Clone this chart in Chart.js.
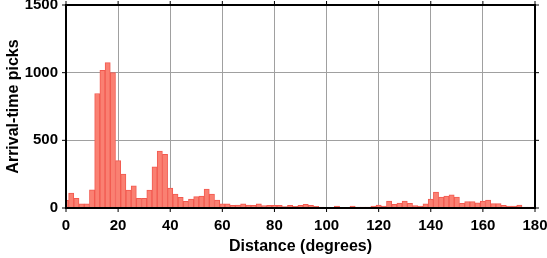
<!DOCTYPE html>
<html>
<head>
<meta charset="utf-8">
<script src="https://cdn.jsdelivr.net/npm/chart.js@4/dist/chart.umd.min.js"></script>
<style>
  body { margin: 0; background: #fff; }
</style>
</head>
<body>
<canvas id="histChart" width="547" height="258"></canvas>
<script>
// bin centres (degrees), 2-degree bins
const distances = [
  0, 2, 4, 6, 8, 10, 12, 14, 16, 18,
  20, 22, 24, 26, 28, 30, 32, 34, 36, 38,
  40, 42, 44, 46, 48, 50, 52, 54, 56, 58,
  60, 62, 64, 66, 68, 70, 72, 74, 76, 78,
  80, 82, 84, 86, 88, 90, 92, 94, 96, 98,
  100, 102, 104, 106, 108, 110, 112, 114, 116, 118,
  120, 122, 124, 126, 128, 130, 132, 134, 136, 138,
  140, 142, 144, 146, 148, 150, 152, 154, 156, 158,
  160, 162, 164, 166, 168, 170, 172, 174, 176, 178, 180
];

// number of picks in each bin
const picks = [
  57, 111, 72, 30, 30, 134, 846, 1017, 1074, 1000,
  350, 251, 133, 163, 72, 72, 133, 305, 421, 397,
  148, 103, 79, 49, 65, 84, 89, 140, 103, 59,
  30, 30, 20, 21, 30, 21, 20, 31, 18, 20,
  20, 20, 10, 20, 12, 20, 27, 20, 12, 7,
  5, 5, 15, 5, 5, 15, 7, 7, 7, 15,
  22, 15, 52, 28, 37, 52, 35, 17, 15, 30,
  66, 118, 81, 89, 98, 81, 35, 47, 47, 39,
  52, 59, 32, 32, 20, 15, 15, 22, 7, 7, 7
];

const xTicks = [0, 20, 40, 60, 80, 100, 120, 140, 160, 180];
const yTicks = [0, 500, 1000, 1500];

const tickFont = { family: "'Liberation Sans', Arial, sans-serif", size: 15, weight: "bold" };
const titleFont = { family: "'Liberation Sans', Arial, sans-serif", size: 16, weight: "bold" };

// black frame with outward ticks on all four sides
const framePlugin = {
  id: "frame",
  afterDatasetsDraw(chart) {
    const { ctx, chartArea: a, scales } = chart;
    ctx.save();
    ctx.strokeStyle = "#000";
    ctx.lineWidth = 1;
    ctx.beginPath();
    xTicks.forEach(v => {
      const px = scales.x.getPixelForValue(v);
      ctx.moveTo(px, a.bottom); ctx.lineTo(px, a.bottom + 4);
      ctx.moveTo(px, a.top); ctx.lineTo(px, a.top - 4);
    });
    yTicks.forEach(v => {
      const py = scales.y.getPixelForValue(v);
      ctx.moveTo(a.left, py); ctx.lineTo(a.left - 4, py);
      ctx.moveTo(a.right, py); ctx.lineTo(a.right + 4, py);
    });
    ctx.stroke();
    ctx.lineWidth = 2;
    ctx.strokeRect(a.left, a.top, a.right - a.left, a.bottom - a.top);
    ctx.restore();
  }
};

const ctx = document.getElementById("histChart").getContext("2d");
new Chart(ctx, {
  type: "bar",
  data: {
    datasets: [
      {
        label: "Arrival-time picks",
        data: distances.map((d, i) => ({ x: d, y: picks[i] })),
        backgroundColor: "#FA8072",
        borderColor: "#F25A50",
        borderWidth: 1,
        borderSkipped: "bottom",
        barPercentage: 1,
        categoryPercentage: 1,
      },
    ],
  },
  options: {
    responsive: false,
    animation: false,
    layout: { padding: 0 },
    plugins: { legend: { display: false }, tooltip: { enabled: false } },
    scales: {
      x: {
        type: "linear",
        min: 0,
        max: 180,
        offset: false,
        afterBuildTicks: axis => { axis.ticks = xTicks.map(v => ({ value: v })); },
        afterFit: axis => {
          axis.height = 50;
          axis.paddingLeft = 0;
          axis.paddingRight = 12;
        },
        grid: { color: "#a0a0a0", lineWidth: 1, drawTicks: false, offset: false },
        border: { display: false },
        ticks: { color: "#000", font: tickFont, padding: 9, maxRotation: 0 },
        title: {
          display: true,
          text: "Distance (degrees)",
          color: "#000",
          font: titleFont,
          padding: { top: 0, bottom: 2 },
        },
      },
      y: {
        min: 0,
        max: 1500,
        afterBuildTicks: axis => { axis.ticks = yTicks.map(v => ({ value: v })); },
        afterFit: axis => {
          axis.width = 66;
          axis.paddingTop = 5;
          axis.paddingBottom = 0;
        },
        grid: { color: "#a0a0a0", lineWidth: 1, drawTicks: false },
        border: { display: false },
        ticks: { color: "#000", font: tickFont, padding: 8, callback: v => String(v) },
        title: {
          display: true,
          text: "Arrival-time picks",
          color: "#000",
          font: titleFont,
          padding: { top: 4, bottom: 0 },
        },
      },
    },
  },
  plugins: [framePlugin],
});
</script>
</body>
</html>
